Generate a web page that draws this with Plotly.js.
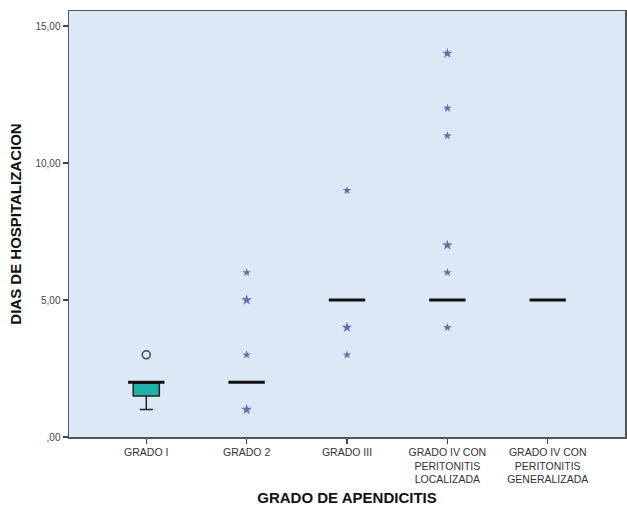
<!DOCTYPE html>
<html><head><meta charset="utf-8">
<script src="https://cdn.plot.ly/plotly-3.0.1.min.js"></script>
<style>html,body{margin:0;padding:0;background:#fff;}#chart{width:627px;height:507px;}</style>
</head><body><div id="chart"></div>
<script>
const categories = ["GRADO I", "GRADO 2", "GRADO III", "GRADO IV CON PERITONITIS LOCALIZADA", "GRADO IV CON PERITONITIS GENERALIZADA"];
const categoryLabels = ["GRADO I", "GRADO 2", "GRADO III", "GRADO IV CON<br>PERITONITIS<br>LOCALIZADA", "GRADO IV CON<br>PERITONITIS<br>GENERALIZADA"];
const q1 = [1.5, 2, 5, 5, 5];
const medians = [2, 2, 5, 5, 5];
const q3 = [2, 2, 5, 5, 5];
const lowerWhisker = [1, 2, 5, 5, 5];
const upperWhisker = [2, 2, 5, 5, 5];
// outliers (circle) and extreme values (stars)
const outlierCat = ["GRADO I"];
const outlierVal = [3];
const extremeCat = ["GRADO 2","GRADO 2","GRADO 2","GRADO 2",
  "GRADO III","GRADO III","GRADO III",
  "GRADO IV CON PERITONITIS LOCALIZADA","GRADO IV CON PERITONITIS LOCALIZADA","GRADO IV CON PERITONITIS LOCALIZADA",
  "GRADO IV CON PERITONITIS LOCALIZADA","GRADO IV CON PERITONITIS LOCALIZADA","GRADO IV CON PERITONITIS LOCALIZADA"];
const extremeVal = [6, 5, 3, 1, 9, 4, 3, 14, 12, 11, 7, 6, 4];
const extremeCount = [1, 2, 1, 2, 1, 2, 1, 2, 1, 1, 2, 1, 1];
const yTickVals = [0, 5, 10, 15];
const yTickText = [",00", "5,00", "10,00", "15,00"];

const traces = [
  {
    type: "box", x: categories, q1: q1, median: medians, q3: q3,
    lowerfence: lowerWhisker, upperfence: upperWhisker,
    width: 0.26, whiskerwidth: 0.5,
    fillcolor: "#1fb2a4", line: {color: "#222222", width: 1.5},
    boxpoints: false, hoverinfo: "skip", showlegend: false
  },
  {
    type: "scatter", mode: "markers", x: categories, y: medians,
    marker: {symbol: "line-ew", size: 26, line: {color: "#111111", width: 3}},
    showlegend: false, hoverinfo: "skip"
  },
  {
    type: "scatter", mode: "markers", x: outlierCat, y: outlierVal,
    marker: {symbol: "circle-open", size: 8, color: "#444444", line: {width: 1.5, color: "#444444"}},
    showlegend: false
  },
  {
    type: "scatter", mode: "markers", x: extremeCat, y: extremeVal,
    marker: {symbol: "star", size: extremeCount.map(c => c > 1 ? 8 : 6.5), color: "#30378a",
             line: {width: 0}},
    showlegend: false
  }
];

const layout = {
  width: 627, height: 507,
  margin: {l: 69, r: 2, t: 11, b: 70},
  paper_bgcolor: "#ffffff",
  plot_bgcolor: "#dbe9f6",
  font: {family: "Liberation Sans, Arial, sans-serif", color: "#333333"},
  xaxis: {
    type: "category", range: [-0.77, 4.77],
    tickvals: categories, ticktext: categoryLabels,
    ticks: "outside", ticklen: 5, tickcolor: "#444444", tickwidth: 1.5,
    tickfont: {size: 10.5, color: "#333333"},
    showline: true, linecolor: "#555555", linewidth: 1.5, mirror: true,
    showgrid: false, zeroline: false,
    title: {text: "<b>GRADO DE APENDICITIS</b>", font: {size: 15, color: "#111111"}, standoff: 8}
  },
  yaxis: {
    range: [0, 15.55],
    tickvals: yTickVals, ticktext: yTickText,
    ticks: "outside", ticklen: 5, tickcolor: "#444444", tickwidth: 1.5,
    tickfont: {size: 10, color: "#444444"},
    showline: true, linecolor: "#555555", linewidth: 1.5, mirror: true,
    showgrid: false, zeroline: false,
    title: {text: "<b>DIAS DE HOSPITALIZACION</b>", font: {size: 15, color: "#111111"}, standoff: 10}
  }
};
Plotly.newPlot("chart", traces, layout, {displayModeBar: false, staticPlot: true});
</script></body></html>
